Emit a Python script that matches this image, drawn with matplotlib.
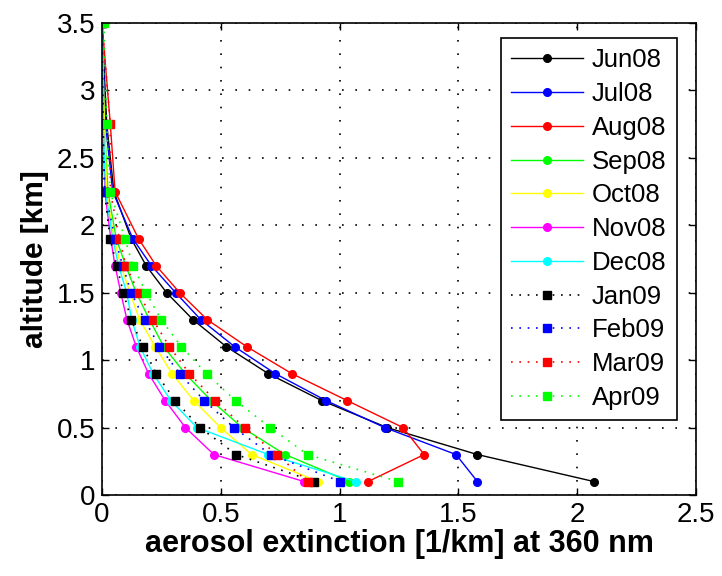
import matplotlib.pyplot as plt

plt.rcParams['font.family'] = ['Liberation Sans', 'DejaVu Sans']

altitude = [0.1, 0.3, 0.5, 0.7, 0.9, 1.1, 1.3, 1.5, 1.7, 1.9, 2.25, 2.75, 3.5]

months = ["Jun08", "Jul08", "Aug08", "Sep08", "Oct08", "Nov08", "Dec08",
          "Jan09", "Feb09", "Mar09", "Apr09"]

jun08 = [2.07, 1.58, 1.20, 0.925, 0.70, 0.523, 0.383, 0.272, 0.186, 0.123, 0.05, 0.02, 0.0]
jul08 = [1.58, 1.49, 1.19, 0.943, 0.729, 0.558, 0.416, 0.31, 0.208, 0.13, 0.045, 0.015, 0.0]
aug08 = [1.12, 1.356, 1.267, 1.032, 0.799, 0.609, 0.443, 0.327, 0.228, 0.154, 0.055, 0.035, 0.0]
sep08 = [1.04, 0.771, 0.59, 0.46, 0.35, 0.26, 0.20, 0.144, 0.10, 0.06, 0.025, 0.01, 0.0]
oct08 = [0.91, 0.63, 0.499, 0.386, 0.295, 0.224, 0.158, 0.118, 0.08, 0.05, 0.02, 0.01, 0.0]
nov08 = [0.85, 0.471, 0.351, 0.266, 0.196, 0.144, 0.105, 0.079, 0.055, 0.037, 0.012, 0.005, 0.0]
dec08 = [1.067, 0.70, 0.40, 0.29, 0.215, 0.16, 0.125, 0.104, 0.07, 0.045, 0.015, 0.005, 0.0]
jan09 = [0.893, 0.565, 0.412, 0.309, 0.228, 0.172, 0.123, 0.09, 0.062, 0.034, 0.01, 0.005, 0.0]
feb09 = [1.003, 0.71, 0.555, 0.43, 0.327, 0.242, 0.179, 0.123, 0.087, 0.055, 0.013, 0.0, 0.0]
mar09 = [0.865, 0.736, 0.60, 0.477, 0.368, 0.284, 0.214, 0.154, 0.101, 0.073, 0.035, 0.035, 0.0]
apr09 = [1.246, 0.865, 0.708, 0.562, 0.44, 0.334, 0.249, 0.186, 0.13, 0.097, 0.034, 0.02, 0.008]

series = [jun08, jul08, aug08, sep08, oct08, nov08, dec08, jan09, feb09, mar09, apr09]
colors = ["#000000", "#0000ff", "#ff0000", "#00ff00", "#ffff00", "#ff00ff", "#00ffff",
          "#000000", "#0000ff", "#ff0000", "#00ff00"]

x_ticks = [0, 0.5, 1, 1.5, 2, 2.5]
x_tick_labels = ["0", "0.5", "1", "1.5", "2", "2.5"]
y_ticks = [0, 0.5, 1, 1.5, 2, 2.5, 3, 3.5]
y_tick_labels = ["0", "0.5", "1", "1.5", "2", "2.5", "3", "3.5"]

fig = plt.figure(figsize=(7.22, 5.76), dpi=100)
ax = fig.add_axes([102 / 722, 81 / 576, 594 / 722, 472 / 576])

for i, (name, vals) in enumerate(zip(months, series)):
    if i < 7:
        ax.plot(vals, altitude, color=colors[i], linestyle='-', linewidth=1.0,
                marker='o', markersize=5.5, label=name)
    else:
        ax.plot(vals, altitude, color=colors[i], linestyle=(0, (1, 4)), linewidth=1.2,
                marker='s', markersize=5.5, label=name)

ax.set_xlim(0, 2.5)
ax.set_ylim(0, 3.5)
ax.set_xticks(x_ticks)
ax.set_xticklabels(x_tick_labels)
ax.set_yticks(y_ticks)
ax.set_yticklabels(y_tick_labels)
ax.tick_params(direction='in', top=True, right=True, labelsize=20, length=5, width=1, pad=5)
ax.grid(True, color='black', linestyle=(0, (1, 7)), linewidth=1.2)
for sp in ax.spines.values():
    sp.set_linewidth(1.2)

ax.set_xlabel("aerosol extinction [1/km] at 360 nm", fontsize=22, fontweight='bold', labelpad=1)
ax.set_ylabel("altitude [km]", fontsize=21.5, fontweight='bold', labelpad=5)

leg = ax.legend(loc='upper right', bbox_to_anchor=(677 / 722, 1 - 38 / 576),
                bbox_transform=fig.transFigure, borderaxespad=0, fontsize=18.5,
                fancybox=False, framealpha=1, edgecolor='black', handlelength=2.8,
                handletextpad=0.35, labelspacing=0.38, borderpad=0.4)
leg.get_frame().set_linewidth(1.2)

fig.savefig("out.png", dpi=100)
